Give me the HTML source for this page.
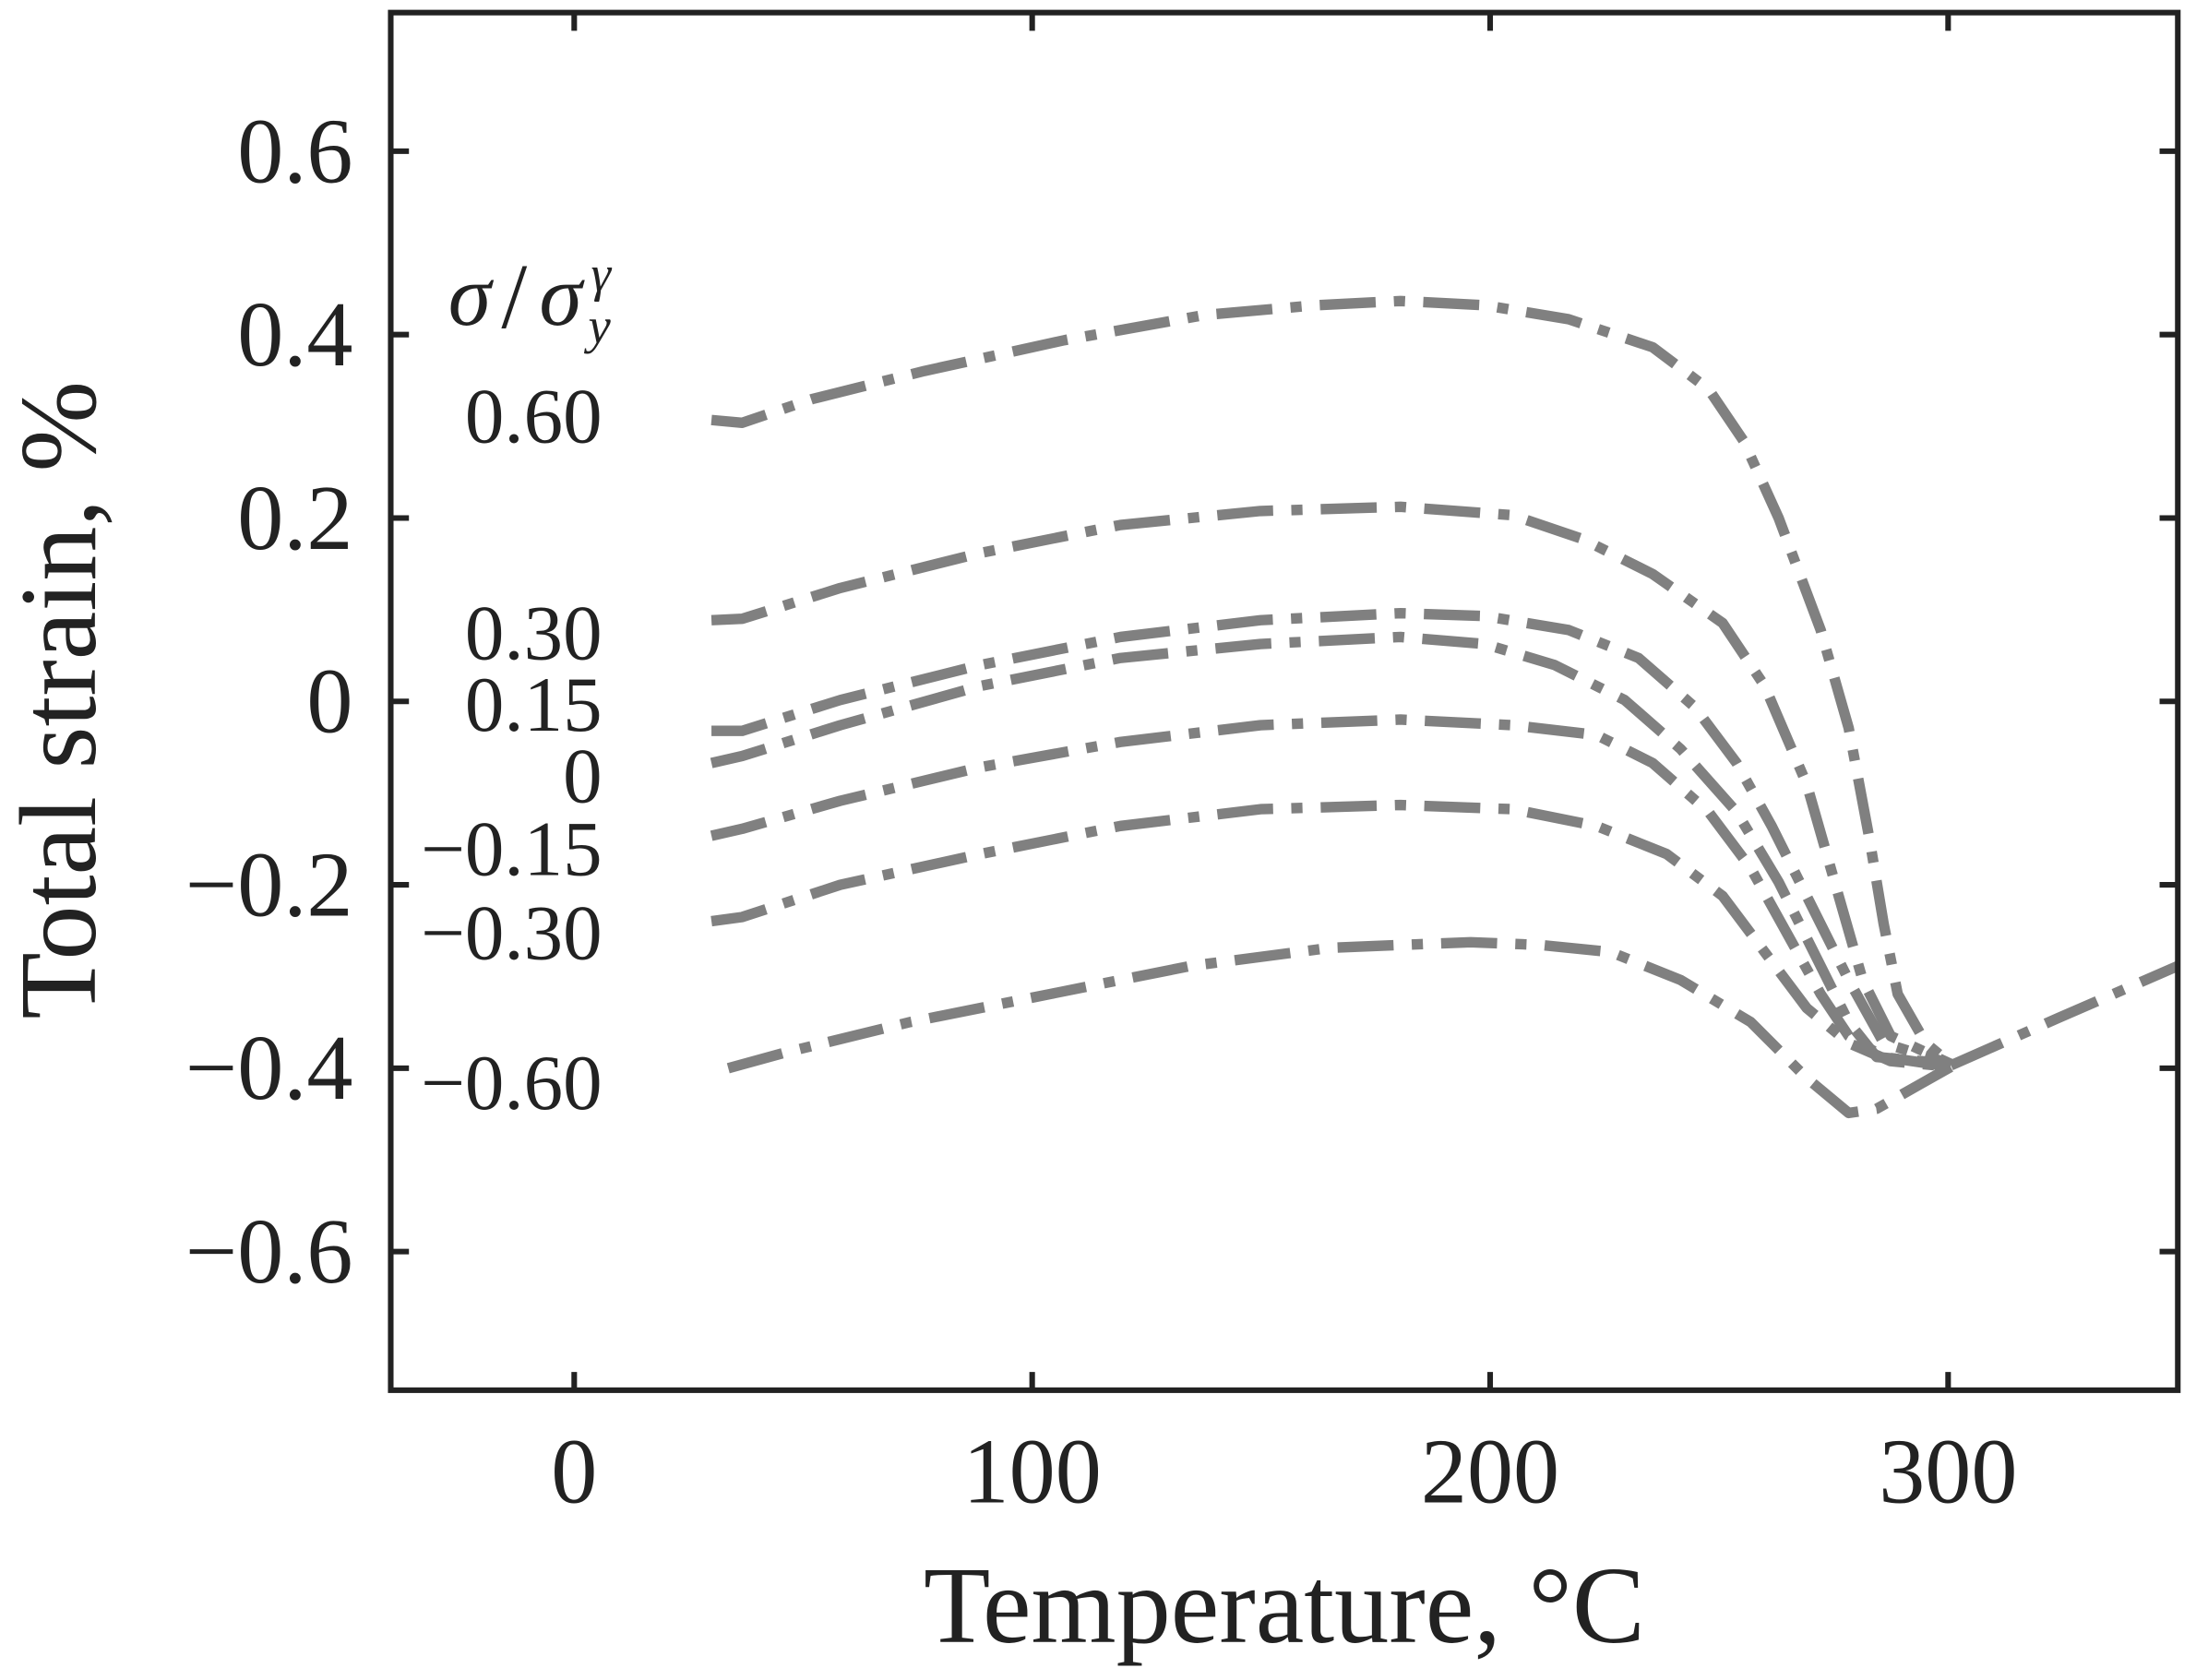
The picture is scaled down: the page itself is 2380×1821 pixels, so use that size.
<!DOCTYPE html>
<html><head><meta charset="utf-8"><style>
html,body{margin:0;padding:0;background:#fff;}
svg{display:block;}
text{font-family:"Liberation Serif",serif;fill:#222;}
</style></head><body>
<svg width="2380" height="1821" viewBox="0 0 1568 1200" preserveAspectRatio="none">
<g fill="none" stroke="#808080" stroke-width="7.5" stroke-dasharray="40 13 8 13" stroke-linejoin="round">
<polyline points="508,300 530,302 580,285 660,265 760,243 860,225 940,218 1000,215 1060,218 1120,228 1180,248 1220,278 1245,315 1270,370 1300,450 1320,520 1335,600 1345,660 1355,710 1375,745 1393,760"/>
<polyline points="508,443 530,442 600,420 700,395 800,375 900,365 1000,362 1080,368 1130,385 1180,410 1230,445 1260,490 1290,560 1310,630 1330,700 1350,740 1393,760"/>
<polyline points="508,522 530,522 600,500 700,475 800,455 900,443 1000,438 1060,440 1120,450 1170,470 1210,505 1240,545 1265,590 1290,640 1320,700 1345,745 1393,760"/>
<polyline points="508,545 530,540 600,518 700,490 800,470 900,460 1000,455 1060,460 1110,475 1160,500 1200,535 1240,580 1270,630 1300,690 1320,730 1340,755 1393,760"/>
<polyline points="508,597 530,592 600,572 700,548 800,530 900,518 1000,514 1080,518 1140,525 1180,545 1220,580 1250,620 1275,665 1300,710 1320,740 1345,755 1393,762"/>
<polyline points="508,658 530,655 600,632 700,610 800,590 900,578 1000,575 1080,578 1140,590 1190,610 1230,640 1260,680 1290,720 1320,745 1350,758 1393,762"/>
<polyline points="520,763 560,752 650,730 750,710 850,690 950,677 1050,673 1100,675 1150,680 1200,700 1250,730 1290,770 1320,795 1340,792 1370,775 1393,762"/>
<polyline points="1393,761 1470,727 1555,690"/>
</g>
<g stroke="#222" stroke-width="4" fill="none">
<rect x="279" y="9" width="1276" height="984"/>
<path d="M279,108h13M279,239h13M279,370h13M279,501h13M279,632h13M279,763h13M279,894h13
M1555,108h-13M1555,239h-13M1555,370h-13M1555,501h-13M1555,632h-13M1555,763h-13M1555,894h-13
M410,993v-13M737,993v-13M1064,993v-13M1391,993v-13
M410,9v13M737,9v13M1064,9v13M1391,9v13"/>
</g>
<g font-size="66" text-anchor="end">
<text x="252" y="130">0.6</text>
<text x="252" y="261">0.4</text>
<text x="252" y="392">0.2</text>
<text x="252" y="523">0</text>
<text x="252" y="654">−0.2</text>
<text x="252" y="785">−0.4</text>
<text x="252" y="916">−0.6</text>
</g>
<g font-size="66" text-anchor="middle">
<text x="410" y="1073">0</text>
<text x="737" y="1073">100</text>
<text x="1064" y="1073">200</text>
<text x="1391" y="1073">300</text>
</g>
<text x="917" y="1173" font-size="78" text-anchor="middle">Temperature, °C</text>
<text transform="translate(68,500) rotate(-90)" font-size="78" text-anchor="middle">Total strain, %</text>
<g font-size="56" text-anchor="end">
<text x="430" y="316">0.60</text>
<text x="430" y="471">0.30</text>
<text x="430" y="522">0.15</text>
<text x="430" y="573">0</text>
<text x="430" y="625">−0.15</text>
<text x="430" y="685">−0.30</text>
<text x="430" y="792">−0.60</text>
</g>
<text x="320" y="232" font-size="62" font-style="italic">σ</text>
<text x="358" y="234" font-size="66">/</text>
<text x="385" y="232" font-size="62" font-style="italic">σ</text>
<text x="422" y="208" font-size="36" font-style="italic">γ</text>
<text x="420" y="245" font-size="36" font-style="italic">y</text>
</svg>
</body></html>
